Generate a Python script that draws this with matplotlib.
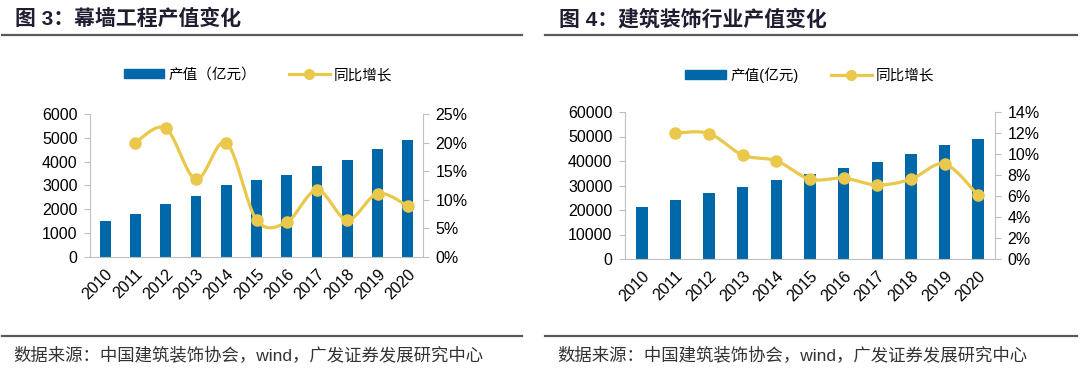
import numpy as np
import matplotlib
matplotlib.use("Agg")
import matplotlib.pyplot as plt
from matplotlib.lines import Line2D
from matplotlib.patches import Patch
from matplotlib.ticker import PercentFormatter, MultipleLocator

plt.rcParams["font.family"] = ["Liberation Sans", "Noto Sans CJK SC"]

years = [str(y) for y in range(2010, 2021)]

# 图3 幕墙工程
curtain_value = [1530, 1820, 2230, 2540, 3030, 3230, 3430, 3830, 4080, 4530, 4900]
curtain_growth = [np.nan, 0.200, 0.225, 0.136, 0.200, 0.065, 0.061, 0.117, 0.065, 0.111, 0.089]

# 图4 建筑装饰行业
deco_value = [21300, 24000, 26800, 29300, 32100, 34600, 37100, 39700, 42700, 46400, 49100]
deco_growth = [np.nan, 0.120, 0.1195, 0.099, 0.0935, 0.076, 0.077, 0.0705, 0.076, 0.0905, 0.0605]

BLUE = "#0068A8"
YELLOW = "#E9C84C"
GRAY = "#BFBFBF"
DARK = "#5A5A5A"


def smooth(x, y, n=24):
    # catmull-rom, close to excel's smoothed line
    x = np.asarray(x, float)
    y = np.asarray(y, float)
    px = np.concatenate([[x[0]], x, [x[-1]]])
    py = np.concatenate([[y[0]], y, [y[-1]]])
    t = np.linspace(0, 1, n)
    xs, ys = [], []
    for i in range(1, len(px) - 2):
        for p, out in ((px, xs), (py, ys)):
            p0, p1, p2, p3 = p[i - 1], p[i], p[i + 1], p[i + 2]
            out.append(0.5 * (2 * p1 + (-p0 + p2) * t
                              + (2 * p0 - 5 * p1 + 4 * p2 - p3) * t ** 2
                              + (-p0 + 3 * p1 - 3 * p2 + p3) * t ** 3))
    return np.concatenate(xs), np.concatenate(ys)


def panel(rect, values, growth, ymax, ystep, pmax, pstep, width):
    ax = fig.add_axes(rect)
    x = np.arange(len(years))
    ax.bar(x, values, width=width, color=BLUE, zorder=2)
    ax.set_xlim(-0.5, len(years) - 0.5)
    ax.set_ylim(0, ymax)
    ax.yaxis.set_major_locator(MultipleLocator(ystep))
    ax.set_xticks(x)
    ax.set_xticklabels(years, rotation=45, ha="right", rotation_mode="anchor")
    for s in ["top", "right"]:
        ax.spines[s].set_visible(False)
    for s in ["left", "bottom"]:
        ax.spines[s].set_color(GRAY)
    ax.tick_params(axis="y", length=4, color=GRAY, labelsize=11.5, pad=5)
    ax.tick_params(axis="x", length=0, labelsize=11.5, pad=7)

    ax2 = ax.twinx()
    g = np.asarray(growth, float)
    ok = ~np.isnan(g)
    sx, sy = smooth(x[ok], g[ok])
    ax2.plot(sx, sy, color=YELLOW, lw=2.3, zorder=3)
    ax2.plot(x[ok], g[ok], "o", color=YELLOW, ms=8, zorder=4)
    ax2.set_ylim(0, pmax)
    ax2.yaxis.set_major_locator(MultipleLocator(pstep))
    ax2.yaxis.set_major_formatter(PercentFormatter(1.0, decimals=0))
    for s in ["top", "left", "bottom"]:
        ax2.spines[s].set_visible(False)
    ax2.spines["right"].set_color(GRAY)
    ax2.tick_params(axis="y", length=4, color=GRAY, labelsize=11.5, pad=5)
    return ax


fig = plt.figure(figsize=(10.8, 3.76), dpi=100)

panel([90 / 1080, 1 - 257 / 376, 333 / 1080, 143 / 376],
      curtain_value, curtain_growth, 6000, 1000, 0.25, 0.05, 0.36)
panel([625 / 1080, 1 - 259 / 376, 370 / 1080, 147 / 376],
      deco_value, deco_growth, 60000, 10000, 0.14, 0.02, 0.34)

# titles and rules
fig.text(15 / 1080, 1 - 19 / 376, "图 3：幕墙工程产值变化", fontsize=15,
         fontweight="bold", color="#1E1E30", va="center")
fig.text(559 / 1080, 1 - 19 / 376, "图 4：建筑装饰行业产值变化", fontsize=15,
         fontweight="bold", color="#1E1E30", va="center")
for x0, x1 in [(2, 522), (545, 1077)]:
    for yy in [35, 336]:
        fig.add_artist(Line2D([x0 / 1080, x1 / 1080], [1 - yy / 376] * 2,
                              color=DARK, lw=1.6))

src = "数据来源：中国建筑装饰协会，wind，广发证券发展研究中心"
fig.text(13 / 1080, 1 - 355 / 376, src, fontsize=12.5, color="#333333", va="center")
fig.text(557 / 1080, 1 - 355 / 376, src, fontsize=12.5, color="#333333", va="center")

# legends
for cx, lab in [(258 / 1080, "产值（亿元）"), (810 / 1080, "产值(亿元)")]:
    handles = [Patch(color=BLUE),
               Line2D([0], [0], color=YELLOW, lw=2.3, marker="o", ms=7)]
    fig.legend(handles, [lab, "同比增长"], loc="center", bbox_to_anchor=(cx, 1 - 75 / 376),
               ncol=2, frameon=False, fontsize=10.5, handlelength=2.8,
               handleheight=0.6, handletextpad=0.3, columnspacing=2.2)

fig.savefig("out.png", dpi=100)
